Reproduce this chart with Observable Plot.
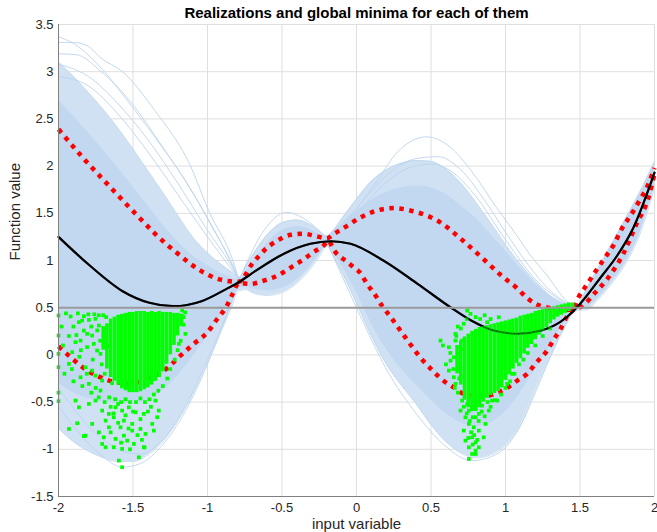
<!DOCTYPE html>
<html><head><meta charset="utf-8">
<script src="https://cdn.jsdelivr.net/npm/d3@7"></script>
<script src="https://cdn.jsdelivr.net/npm/@observablehq/plot@0.6"></script>
<style>
html,body{margin:0;padding:0;background:#fff;}
#chart svg{display:block;}
</style></head><body><div id="chart"></div>
<script>
const titleText = "Realizations and global minima for each of them";
const xLabel = "input variable";
const yLabel = "Function value";
const xDomain = [-2, 2];
const yDomain = [-1.5, 3.5];
const xTicks = [-2, -1.5, -1, -0.5, 0, 0.5, 1, 1.5, 2];
const yTicks = [-1.5, -1, -0.5, 0, 0.5, 1, 1.5, 2, 2.5, 3, 3.5];
const thresholdY = [0.5];

// envelope of the realization bundle
const envX    = [-2, -1.9, -1.8, -1.7, -1.6, -1.5, -1.4, -1.3, -1.2, -1.1, -1.0, -0.9, -0.84, -0.79, -0.74, -0.7, -0.6, -0.5, -0.4, -0.3, -0.25, -0.2, -0.15, -0.1, 0, 0.1, 0.2, 0.3, 0.4, 0.5, 0.6, 0.7, 0.8, 0.9, 1.0, 1.1, 1.2, 1.3, 1.4, 1.47, 1.55, 1.6, 1.7, 1.8, 1.9, 2.0];
const outerHi = [3.10, 2.95, 2.78, 2.60, 2.40, 2.18, 1.95, 1.72, 1.48, 1.25, 1.08, 0.95, 0.88, 0.82, 0.95, 1.05, 1.27, 1.40, 1.43, 1.37, 1.31, 1.26, 1.33, 1.44, 1.65, 1.84, 1.96, 2.03, 2.06, 2.05, 1.97, 1.82, 1.62, 1.40, 1.17, 0.96, 0.78, 0.63, 0.54, 0.50, 0.72, 0.86, 1.14, 1.43, 1.72, 2.05];
const denseHi = [2.70, 2.53, 2.35, 2.17, 1.98, 1.78, 1.58, 1.38, 1.20, 1.05, 0.95, 0.86, 0.82, 0.79, 0.88, 0.97, 1.18, 1.32, 1.36, 1.32, 1.28, 1.25, 1.30, 1.38, 1.52, 1.64, 1.72, 1.77, 1.79, 1.77, 1.70, 1.58, 1.45, 1.28, 1.10, 0.92, 0.75, 0.62, 0.53, 0.50, 0.70, 0.84, 1.12, 1.41, 1.70, 2.03];
const denseLo = [-0.30, -0.40, -0.46, -0.50, -0.52, -0.52, -0.48, -0.38, -0.22, -0.02, 0.20, 0.45, 0.60, 0.72, 0.72, 0.70, 0.68, 0.71, 0.80, 0.96, 1.06, 1.17, 1.08, 0.95, 0.66, 0.33, 0.06, -0.15, -0.32, -0.48, -0.62, -0.72, -0.76, -0.72, -0.60, -0.40, -0.15, 0.10, 0.35, 0.47, 0.50, 0.57, 0.75, 0.97, 1.29, 1.79];
const outerLo = [-0.78, -0.92, -1.02, -1.09, -1.13, -1.13, -1.06, -0.92, -0.70, -0.42, -0.08, 0.28, 0.50, 0.68, 0.69, 0.66, 0.63, 0.66, 0.76, 0.93, 1.04, 1.15, 1.03, 0.88, 0.55, 0.20, -0.10, -0.32, -0.52, -0.74, -0.92, -1.04, -1.09, -1.06, -0.96, -0.75, -0.37, -0.03, 0.30, 0.47, 0.48, 0.55, 0.73, 0.95, 1.27, 1.77];

// individual realizations that stand out of the bundle
const realizationXs = [
  [-2, -1.9, -1.75, -1.55, -1.35, -1.15, -1.0, -0.88, -0.79],
  [-2, -1.9, -1.8, -1.72, -1.57, -1.35, -1.12, -0.99, -0.83, -0.79],
  [-2, -1.88, -1.72, -1.5, -1.3, -1.1, -0.95, -0.83, -0.79],
  [-2, -1.8, -1.6, -1.4, -1.2, -1.0, -0.85, -0.79],
  [-2, -1.8, -1.6, -1.4, -1.2, -1.0, -0.85, -0.79],
  [-0.79, -0.73, -0.62, -0.47, -0.33, -0.2],
  [-0.2, -0.1, 0, 0.14, 0.27, 0.47, 0.63, 0.77, 0.94, 1.06, 1.17, 1.28, 1.41, 1.47],
  [-0.2, 0, 0.2, 0.4, 0.55, 0.7, 0.85, 1.0, 1.15, 1.3, 1.47],
  [-0.2, 0, 0.2, 0.35, 0.5, 0.65, 0.8, 1.0, 1.2, 1.35, 1.47],
  [-2, -1.85, -1.7, -1.57, -1.45, -1.3, -1.15, -1.0, -0.9, -0.79],
  [-2, -1.8, -1.6, -1.45, -1.3, -1.15, -1.0, -0.88, -0.79],
  [-0.2, 0, 0.2, 0.4, 0.6, 0.77, 0.9, 1.0, 1.1, 1.2, 1.3, 1.4, 1.47]
];
const realizationYs = [
  [3.37, 3.3, 3.1, 2.72, 2.3, 1.85, 1.45, 1.1, 0.79],
  [3.31, 3.31, 3.27, 3.15, 3.0, 2.58, 2.02, 1.52, 1.0, 0.8],
  [3.19, 3.18, 3.01, 2.65, 2.2, 1.72, 1.3, 0.95, 0.8],
  [3.08, 2.95, 2.66, 2.28, 1.82, 1.32, 0.97, 0.8],
  [2.95, 2.85, 2.55, 2.15, 1.7, 1.25, 0.93, 0.8],
  [0.78, 1.0, 1.32, 1.51, 1.42, 1.24],
  [1.24, 1.36, 1.55, 1.85, 2.14, 2.31, 2.2, 1.95, 1.56, 1.3, 1.05, 0.84, 0.57, 0.5],
  [1.24, 1.55, 1.9, 2.08, 2.1, 1.96, 1.66, 1.3, 0.96, 0.68, 0.5],
  [1.24, 1.5, 1.83, 1.98, 2.02, 1.93, 1.68, 1.22, 0.8, 0.6, 0.5],
  [-0.55, -0.85, -1.08, -1.19, -1.15, -0.95, -0.6, -0.1, 0.3, 0.78],
  [-0.35, -0.75, -1.0, -1.05, -0.9, -0.55, -0.05, 0.4, 0.78],
  [1.2, 0.5, -0.15, -0.62, -0.97, -1.12, -1.08, -0.98, -0.75, -0.4, -0.02, 0.32, 0.5]
];

// mean and the two dotted bounds
const meanX = [-2, -1.8, -1.57, -1.39, -1.23, -1.04, -0.86, -0.79, -0.68, -0.49, -0.31, -0.17, -0.04, 0.18, 0.41, 0.63, 0.77, 0.92, 1.08, 1.24, 1.41, 1.5, 1.64, 1.75, 1.86, 2.0];
const meanY = [1.25, 0.96, 0.675, 0.552, 0.516, 0.569, 0.71, 0.77, 0.887, 1.07, 1.177, 1.204, 1.177, 1.0, 0.753, 0.505, 0.364, 0.258, 0.224, 0.258, 0.399, 0.54, 0.823, 1.053, 1.353, 1.93];
const upperX = [-2, -1.82, -1.66, -1.48, -1.35, -1.19, -1.06, -0.92, -0.85, -0.79, -0.70, -0.62, -0.53, -0.44, -0.35, -0.29, -0.20, -0.15, -0.06, 0.03, 0.14, 0.25, 0.36, 0.47, 0.56, 0.70, 0.85, 0.91, 0.99, 1.07, 1.12, 1.20, 1.27, 1.32, 1.38, 1.45, 1.49, 1.55, 1.60, 1.67, 1.73, 1.78, 1.84, 1.90, 1.95, 2.0];
const upperY = [2.39, 2.06, 1.79, 1.49, 1.28, 1.06, 0.905, 0.80, 0.78, 0.775, 0.965, 1.106, 1.212, 1.272, 1.283, 1.265, 1.235, 1.283, 1.37, 1.459, 1.53, 1.555, 1.53, 1.477, 1.406, 1.23, 1.018, 0.929, 0.817, 0.717, 0.64, 0.541, 0.505, 0.488, 0.477, 0.48, 0.611, 0.753, 0.876, 1.035, 1.177, 1.336, 1.477, 1.636, 1.777, 1.98];
const lowerX = [-2, -1.915, -1.83, -1.73, -1.61, -1.53, -1.45, -1.36, -1.27, -1.19, -1.09, -1.0, -0.935, -0.87, -0.83, -0.79, -0.71, -0.62, -0.555, -0.49, -0.42, -0.35, -0.29, -0.22, -0.19, -0.15, -0.06, -0.02, 0.03, 0.07, 0.12, 0.17, 0.23, 0.33, 0.43, 0.51, 0.59, 0.65, 0.72, 0.79, 0.88, 0.955, 1.01, 1.08, 1.145, 1.21, 1.28, 1.32, 1.37, 1.41, 1.45, 1.52, 1.59, 1.69, 1.79, 1.88, 1.96, 2.0];
const lowerY = [0.09, -0.03, -0.14, -0.23, -0.29, -0.30, -0.28, -0.225, -0.14, -0.02, 0.12, 0.24, 0.38, 0.52, 0.65, 0.76, 0.753, 0.788, 0.823, 0.876, 0.947, 1.018, 1.088, 1.159, 1.21, 1.106, 0.982, 0.929, 0.859, 0.753, 0.647, 0.523, 0.40, 0.18, -0.03, -0.165, -0.282, -0.342, -0.412, -0.43, -0.43, -0.395, -0.349, -0.271, -0.20, -0.077, 0.047, 0.153, 0.276, 0.40, 0.47, 0.52, 0.64, 0.82, 1.07, 1.39, 1.67, 1.92];

// global minima: densely packed columns (x, lowest, highest)
const minColX  = [-1.700, -1.675, -1.650, -1.625, -1.600, -1.575, -1.550, -1.525, -1.500, -1.475, -1.450, -1.425, -1.400, -1.375, -1.350, -1.325, -1.300, -1.275, -1.250, -1.225, -1.200, -1.175,
                  0.675, 0.700, 0.725, 0.750, 0.775, 0.800, 0.825, 0.850, 0.875, 0.900, 0.925, 0.950, 0.975, 1.000, 1.025, 1.050, 1.075, 1.100, 1.125, 1.150, 1.175, 1.200, 1.225, 1.250, 1.275, 1.300, 1.325, 1.350, 1.375, 1.400, 1.425, 1.450];
const minColLo = [0.05, -0.15, -0.24, -0.28, -0.32, -0.36, -0.38, -0.40, -0.40, -0.40, -0.39, -0.37, -0.35, -0.32, -0.28, -0.24, -0.18, -0.10, 0.00, 0.10, 0.20, 0.30,
                  -0.20, -0.32, -0.48, -0.56, -0.60, -0.60, -0.56, -0.50, -0.46, -0.43, -0.41, -0.39, -0.35, -0.27, -0.21, -0.15, -0.09, -0.04, 0.01, 0.07, 0.11, 0.16, 0.21, 0.25, 0.29, 0.33, 0.37, 0.40, 0.42, 0.44, 0.46, 0.49];
const minColHi = [0.30, 0.33, 0.38, 0.40, 0.42, 0.43, 0.44, 0.45, 0.45, 0.46, 0.46, 0.46, 0.45, 0.46, 0.45, 0.46, 0.45, 0.45, 0.45, 0.44, 0.44, 0.43,
                  0.10, 0.15, 0.19, 0.22, 0.25, 0.27, 0.29, 0.30, 0.31, 0.32, 0.33, 0.34, 0.35, 0.36, 0.37, 0.38, 0.39, 0.41, 0.42, 0.43, 0.44, 0.46, 0.47, 0.48, 0.49, 0.50, 0.51, 0.52, 0.53, 0.54, 0.55, 0.55];

// global minima: scattered ones
const minPtX = [-2.0, -2.0, -2.0, -2.0, -2.0, -2.0, -1.919, -1.863, -1.841, -1.796, -1.752, -1.729, -1.83, -1.808, -1.774, -1.852, -1.886, -1.763, -1.808, -1.741, -1.718, -1.908, -1.93, -1.819, -1.774, -1.752, -1.852, -1.796, -1.707, -1.718, -1.886, -1.796, -1.752, -1.863, -1.707, -1.662, -1.617, -1.573, -1.528, -1.483, -1.427, -1.684, -1.629, -1.561, -1.505, -1.584, -1.662, -1.729, -1.774, -1.819, -1.93, -1.875, -1.696, -1.561, -1.539, -1.505, -1.617, -1.573, -1.684, -1.629, -1.494, -1.427, -1.461, -1.595, -1.573, -1.707, -1.159, -1.148, -1.192, -1.349, -1.327, -1.371, -1.416, -1.36, -1.45, -1.338, -1.423, -1.83,
  -1.95, -1.9, -1.88, -1.85, -1.8, -1.78, -1.77, -1.74, -1.72, -1.71, -1.7, -1.73, -1.76, -1.83, -1.87, -1.93, -1.96, -1.9, -1.84, -1.78, -1.73, -1.69, -1.66, -1.65, -1.62, -1.6, -1.58, -1.55, -1.52, -1.48, -1.45, -1.42, -1.39, -1.36, -1.33, -1.3, -1.27, -1.25, -1.22, -1.2, -1.18, -1.16, -1.15, -1.17, -1.68, -1.67, -1.69, -1.64, -1.98, -1.97, -1.91, -1.86, -1.81, -1.75, -1.63, -1.55, -1.5, -1.45, -1.4, -1.38, -1.6, -1.53, -1.47, -1.65, -1.58, -1.52, -1.44,
  0.743, 0.765, 0.955, 0.877, 0.564, 0.620, 0.664, 0.664, 0.631, 0.653, 0.709, 0.709, 0.687, 0.620, 0.653, 0.687, 0.664, 0.698, 0.709, 0.743, 0.754, 0.698, 0.776, 0.799, 0.731, 0.821, 0.843, 0.866, 0.754, 0.787, 0.720, 0.821, 0.776, 0.854, 0.731, 0.799, 0.754, 0.821, 0.776, 0.799, 0.754, 0.910, 0.944, 0.888, 1.011, 1.045, 1.134,
  0.58, 0.60, 0.63, 0.65, 0.67, 0.69, 0.66, 0.68, 0.70, 0.72, 0.74, 0.80, 0.83, 0.86, 0.90, 0.68, 0.72, 0.74, 0.76, 0.78, 0.82, 0.84, 0.86, 0.77, 0.79, 0.81, 0.75, 0.78, 0.80, 0.88, 0.90, 0.93, 0.97, 1.00, 1.03, 1.06, 1.09, 1.12, 1.15, 1.20, 1.25, 1.30];
const minPtY = [0.417, 0.205, 0.011, -0.13, -0.40, -0.49, 0.407, 0.347, 0.364, 0.371, 0.382, 0.311, 0.258, 0.223, 0.205, 0.152, 0.135, 0.117, 0.082, 0.046, 0.011, 0.029, -0.095, -0.131, -0.166, -0.219, -0.237, -0.307, -0.272, -0.378, -0.484, -0.519, -0.484, -0.555, -0.59, -0.625, -0.555, -0.59, -0.555, -0.608, -0.625, -0.696, -0.661, -0.696, -0.731, -0.767, -0.767, -0.82, -0.731, -0.855, -0.784, -0.724, -0.873, -0.855, -0.908, -0.802, -0.89, -0.996, -0.978, -0.978, -0.943, -0.978, -1.085, -1.12, -1.19, -0.943, 0.40, 0.223, 0.117, -0.484, -0.59, -0.731, -0.837, -0.802, -0.784, -0.66, -0.98, -0.86,
  0.44, 0.30, 0.21, 0.05, 0.43, 0.30, -0.05, 0.26, 0.15, -0.10, 0.42, 0.42, 0.43, 0.41, 0.44, 0.20, -0.20, -0.28, -0.33, -0.40, -0.45, -0.50, -0.45, -0.55, -0.47, -0.52, -0.50, -0.47, -0.50, -0.50, -0.46, -0.50, -0.47, -0.42, -0.38, -0.33, -0.25, -0.15, -0.05, 0.05, 0.15, 0.32, 0.45, 0.47, 0.40, 0.10, -0.20, -0.30, 0.30, 0.10, -0.15, -0.02, -0.20, -0.35, -0.62, -0.64, -0.60, -0.68, -0.60, -0.55, -0.72, -0.78, -0.85, -0.82, -0.93, -1.00, -0.90,
  0.470, 0.435, 0.399, 0.346, 0.152, 0.081, 0.223, 0.152, -0.060, -0.025, 0.152, 0.064, 0.011, -0.166, -0.237, -0.131, -0.307, -0.237, -0.484, -0.519, -0.590, -0.590, -0.555, -0.661, -0.661, -0.625, -0.537, -0.731, -0.731, -0.767, -0.802, -0.802, -0.873, -0.873, -0.908, -0.926, -0.979, -0.979, -1.049, -1.014, -1.102, -0.484, -0.484, -0.590, -0.307, -0.201, 0.152,
  0.10, -0.10, 0.02, -0.15, 0.20, -0.25, -0.35, -0.40, 0.28, 0.33, 0.38, 0.40, 0.38, 0.42, 0.38, 0.30, -0.55, -0.62, -0.70, -0.66, -0.70, -0.60, -0.65, -0.82, -0.85, -0.90, -0.88, -0.95, -1.05, -0.50, -0.55, -0.48, -0.42, -0.35, -0.28, -0.20, -0.10, -0.05, 0.02, 0.10, 0.20, 0.28];

const zip = (xs, ys) => xs.map((x, i) => ({x, y: ys[i]}));
const envelope = envX.map((x, i) => ({x, oHi: outerHi[i], dHi: denseHi[i], dLo: denseLo[i], oLo: outerLo[i]}));
const realizations = realizationXs.flatMap((xs, k) => xs.map((x, i) => ({id: k, x, y: realizationYs[k][i]})));
const minCols = minColX.map((x, i) => ({x, lo: minColLo[i], hi: minColHi[i]}));
const meanRows = zip(meanX, meanY);

const blueLine = "#bcd5ee";
const font = "'Liberation Sans', Arial, Helvetica, sans-serif";
const dotted = {stroke: "#ff0000", strokeWidth: 4.5, strokeDasharray: "4.5,5.5", strokeLinecap: "butt", curve: "monotone-x"};

const chart = Plot.plot({
  width: 657,
  height: 532,
  marginLeft: 58,
  marginRight: 3,
  marginTop: 24,
  marginBottom: 36,
  style: {fontFamily: font, fontSize: "13px", background: "#fff", color: "#262626"},
  x: {domain: xDomain},
  y: {domain: yDomain},
  marks: [
    Plot.gridX(xTicks, {stroke: "#dfdfdf", strokeOpacity: 1}),
    Plot.gridY(yTicks, {stroke: "#dfdfdf", strokeOpacity: 1}),
    Plot.areaY(envelope, {x: "x", y1: "oLo", y2: "oHi", fill: "#cfe1f3", curve: "monotone-x"}),
    Plot.line(envelope, {x: "x", y: "oHi", stroke: blueLine, strokeWidth: 0.8, curve: "monotone-x"}),
    Plot.line(envelope, {x: "x", y: "oLo", stroke: blueLine, strokeWidth: 0.8, curve: "monotone-x"}),
    Plot.areaY(envelope, {x: "x", y1: "dLo", y2: "dHi", fill: "#c2d8f0", curve: "monotone-x"}),
    Plot.line(realizations, {x: "x", y: "y", z: "id", stroke: blueLine, strokeWidth: 0.9, curve: "monotone-x"}),
    Plot.line(zip(upperX, upperY), {x: "x", y: "y", ...dotted}),
    Plot.line(zip(lowerX, lowerY), {x: "x", y: "y", ...dotted}),
    Plot.line(meanRows, {x: "x", y: "y", stroke: "#000", strokeWidth: 2.2, curve: "monotone-x"}),
    Plot.ruleX(minCols, {x: "x", y1: "lo", y2: "hi", stroke: "#00ff00", strokeWidth: 3.6}),
    Plot.dot(zip(minPtX, minPtY), {x: "x", y: "y", symbol: "square", r: 2.1, fill: "#00ff00", stroke: null}),
    Plot.line(meanRows, {x: "x", y: "y", stroke: "#000", strokeWidth: 2, strokeOpacity: 0.45, curve: "monotone-x"}),
    Plot.ruleY(thresholdY, {stroke: "#9a9a9a", strokeWidth: 2}),
    Plot.ruleX([xDomain[0]], {stroke: "#808080", strokeWidth: 1}),
    Plot.ruleY([yDomain[0]], {stroke: "#808080", strokeWidth: 1}),
    Plot.axisX(xTicks, {tickSize: 0, tickPadding: 6, tickFormat: d => String(d), fontSize: 13, fill: "#262626", label: null}),
    Plot.axisY(yTicks, {tickSize: 0, tickPadding: 5, tickFormat: d => String(d), fontSize: 13, fill: "#262626", label: null}),
    Plot.text([titleText], {text: d => d, frameAnchor: "top", lineAnchor: "middle", dy: -11, fontWeight: "bold", fontSize: 15, fill: "#000"}),
    Plot.text([xLabel], {text: d => d, frameAnchor: "bottom", lineAnchor: "middle", dy: 28, fontSize: 15, fill: "#262626"}),
    Plot.text([yLabel], {text: d => d, frameAnchor: "left", lineAnchor: "middle", dx: -43, rotate: -90, fontSize: 15, fill: "#262626"})
  ]
});
document.getElementById("chart").append(chart);
</script></body></html>
